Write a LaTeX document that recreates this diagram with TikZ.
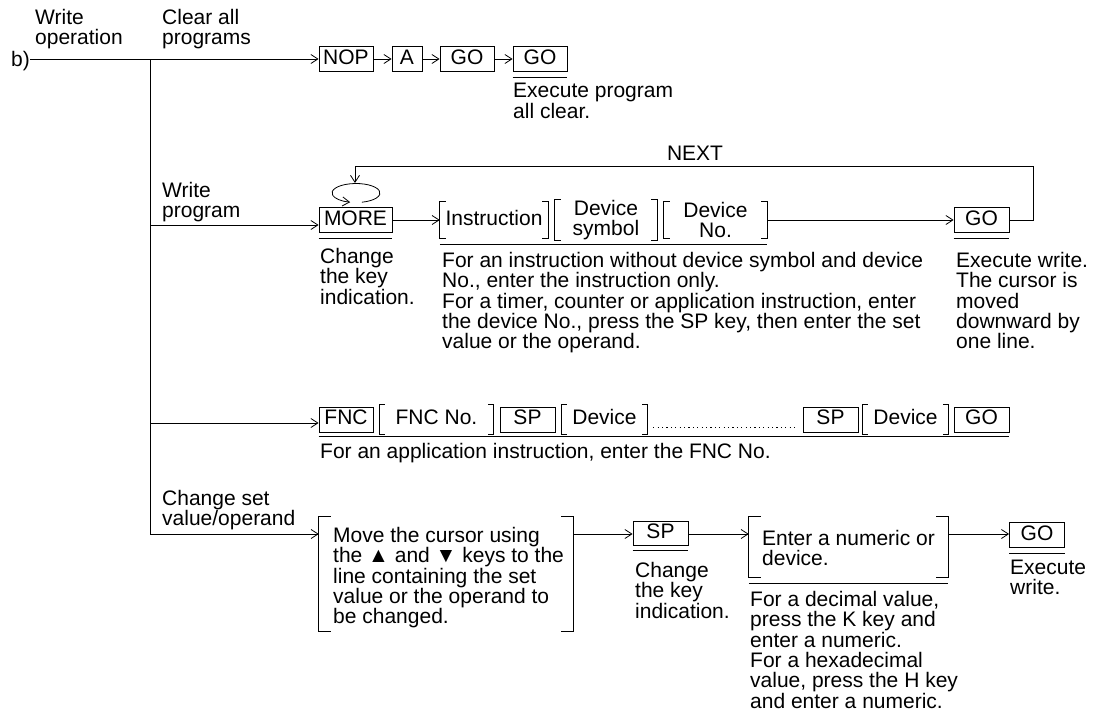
\documentclass[tikz,border=0pt]{standalone}
\usepackage{fontspec}
\setmainfont{Liberation Sans}
\usetikzlibrary{arrows.meta}
\newcommand\fz{\fontsize{21}{20.4}\selectfont}
\newcommand\brkt[2]{%
  \draw[ln] ([xshift=#2]#1.north west) -- (#1.north west) -- (#1.south west) -- ([xshift=#2]#1.south west);
  \draw[ln] ([xshift=-#2]#1.north east) -- (#1.north east) -- (#1.south east) -- ([xshift=-#2]#1.south east);}
\newcommand\uline[3]{\draw[ln] ([yshift=-#3]#1.south west) -- ([yshift=-#3]#2.south east);}
\tikzset{
  every node/.style={font=\fz},
  ln/.style={line width=0.8pt, draw=black},
  arr/.style={ln, -{Straight Barb[length=7pt,width=9pt,line width=0.8pt]}},
  txt/.style={anchor=north west, inner sep=0pt, align=left},
  one/.style={text height=15pt, text depth=4.5pt},
  key/.style={one, draw, line width=0.8pt, inner sep=0pt, minimum height=24.5pt},
  brk/.style={inner sep=0pt, align=center},
}
\begin{document}
\begin{tikzpicture}[x=1pt,y=-1pt]
\useasboundingbox (0,0) rectangle (1096,716);
% labels
\node[txt] (wop) at (35,9) {Write\\operation};
\node[txt] (lclr) at (162,9) {Clear all\\programs};
\node[txt] (lwp) at (162,181.8) {Write\\program};
\node[txt] (lcs) at (162,489.8) {Change set\\value/operand};
\node[inner sep=0pt, anchor=east] (b) at (30,61) {b)};
% trunk
\coordinate (t0) at (150,59);
\coordinate (t1) at (150,225);
\coordinate (t2) at (150,423);
\coordinate (t3) at (150,534);
\draw[ln] (b.east |- t0) -- (t0) -- (t3);
% row 1
\node[key, minimum width=54pt] (nop) at (346,59) {NOP};
\node[key, minimum width=30pt] (a) at (407,59) {A};
\node[key, minimum width=54pt] (go1) at (467,59) {GO};
\node[key, minimum width=54pt] (go2) at (540,59) {GO};
\draw[arr] (t0) -- (nop);
\draw[arr] (nop) -- (a);
\draw[arr] (a) -- (go1);
\draw[arr] (go1) -- (go2);
\uline{go2}{go2}{6pt}
\node[txt] (ex1) at (513,83) {Execute program\\all clear.};
% row 2
\node[key, minimum width=73pt] (more) at (355.5,220) {MORE};
\draw[arr] (t1) -- (t1 -| more.west);
\uline{more}{more}{6pt}
\node[txt] (chg1) at (320,247.8) {Change\\the key\\indication.};
\draw[arr] (356,193) ++(76:24 and 9.5) arc[start angle=76, end angle=-256, x radius=24, y radius=9.5];
\node[brk, one, minimum width=108pt, minimum height=36pt] (ins) at (494,220) {Instruction};
\node[brk, minimum width=102pt, minimum height=36pt] (dsym) at (606,220) {Device\\symbol};
\node[brk, minimum width=103pt, minimum height=36pt] (dno) at (715.5,220) {Device\\No.};
\brkt{ins}{6pt}\brkt{dsym}{6pt}\brkt{dno}{6pt}
\draw[arr] (more.east) -- (ins.west |- more.east);
\uline{ins}{dno}{6pt}
\node[txt] (tx2) at (442,251.8) {For an instruction without device symbol and device\\No., enter the instruction only.\\For a timer, counter or application instruction, enter\\the device No., press the SP key, then enter the set\\value or the operand.};
\node[key, minimum width=55pt] (go3) at (981.5,220) {GO};
\draw[arr] (dno.east |- go3) -- (go3.west);
\uline{go3}{go3}{6pt}
\node[txt] (ex2) at (956,251.8) {Execute write.\\The cursor is\\moved\\downward by\\one line.};
\coordinate (nx) at (1033,166);
\coordinate (lt) at (355,183);
\draw[arr] (go3.east) -| (nx) -| (lt);
\node[anchor=base, inner sep=0pt] (next) at (695,160) {NEXT};
% row 3
\node[key, minimum width=54pt, minimum height=25pt] (fnc) at (346,419.5) {FNC};
\node[brk, one, minimum width=113pt, minimum height=30pt] (fno) at (436.5,419.5) {FNC No.};
\node[key, minimum width=55pt, minimum height=25pt] (sp1) at (527.5,419.5) {SP};
\node[brk, one, minimum width=85pt, minimum height=30pt] (dv1) at (604.5,419.5) {Device};
\node[key, minimum width=55pt, minimum height=25pt] (sp2) at (830.5,419.5) {SP};
\node[brk, one, minimum width=85pt, minimum height=30pt] (dv2) at (905.5,419.5) {Device};
\node[key, minimum width=55pt, minimum height=25pt] (go5) at (981.5,419.5) {GO};
\brkt{fno}{5pt}\brkt{dv1}{5pt}\brkt{dv2}{5pt}
\draw[arr] (t2) -- (t2 -| fnc.west);
\draw[line width=1.1pt, dash pattern=on 1.1pt off 3.3pt] ([xshift=6pt,yshift=-8pt]dv1.east) -- ([xshift=-5pt,yshift=-8pt]sp2.west);
\uline{fnc}{go5}{4pt}
\node[txt] (tx3) at (320,442.8) {For an application instruction, enter the FNC No.};
% row 4
\node[minimum width=254pt, minimum height=114pt, inner sep=0pt] (mv) at (446,574) {};
\node[txt] (mvt) at (333,526.8) {Move the cursor using\\the ▲ and ▼ keys to the\\line containing the set\\value or the operand to\\be changed.};
\brkt{mv}{12pt}
\draw[arr] (t3) -- (t3 -| mv.west);
\node[key, minimum width=55pt] (sp3) at (660.5,533.5) {SP};
\draw[arr] (mv.east |- t3) -- (t3 -| sp3.west);
\uline{sp3}{sp3}{4.5pt}
\node[txt] (chg2) at (635,561.8) {Change\\the key\\indication.};
\node[minimum width=199pt, minimum height=60pt, inner sep=0pt] (ent) at (848.5,547) {};
\node[txt] (entt) at (762,529.8) {Enter a numeric or\\device.};
\brkt{ent}{12pt}
\draw[arr] (t3 -| sp3.east) -- (t3 -| ent.west);
\draw[ln] ([yshift=-6pt]ent.south west) -- ([yshift=-6pt]ent.south east);
\node[txt] (tx4) at (750,590.8) {For a decimal value,\\press the K key and\\enter a numeric.\\For a hexadecimal\\value, press the H key\\and enter a numeric.};
\node[key, minimum width=55pt] (go4) at (1037,535) {GO};
\draw[arr] (t3 -| ent.east) -- (t3 -| go4.west);
\uline{go4}{go4}{6pt}
\node[txt] (ex3) at (1010,559.8) {Execute\\write.};
\end{tikzpicture}
\end{document}
